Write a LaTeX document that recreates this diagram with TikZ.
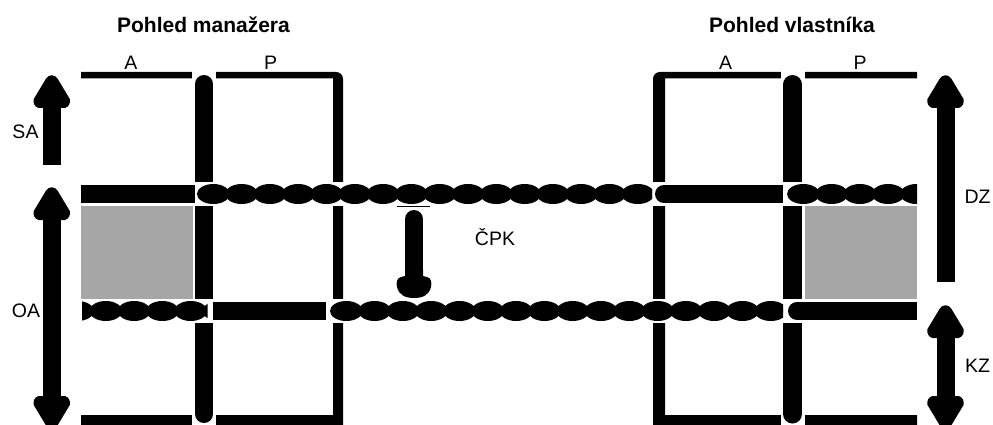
\documentclass[tikz,border=0pt]{standalone}
\usepackage{fontspec}
\setmainfont{Liberation Sans}
\definecolor{fillgray}{HTML}{A6A6A6}

\tikzset{
  tag/.style={inner sep=0pt, anchor=base, font=\fontsize{19.5}{23}\selectfont},
  heading/.style={inner sep=0pt, anchor=base, font=\fontsize{21}{25}\selectfont\bfseries},
  divider/.style={line width=18, line cap=round},
  headup/.pic={
    \fill (-9.5,33) -- (-13,33) .. controls (-17,32) and (-19,28) .. (-18,24)
      -- (-6,4) .. controls (-3,-1) and (3,-1) .. (6,4)
      -- (18,24) .. controls (19,28) and (17,32) .. (13,33) -- (9.5,33) -- cycle;
  },
  headdown/.pic={
    \fill (-9.5,-33) -- (-13,-33) .. controls (-17,-32) and (-19,-28) .. (-18,-24)
      -- (-6,-4) .. controls (-3,1) and (3,1) .. (6,-4)
      -- (18,-24) .. controls (19,-28) and (17,-32) .. (13,-33) -- (9.5,-33) -- cycle;
  }
}

% chain of overlapping beads: clip start, clip end, centre y, first bead centre
\newcommand\beadrow[4]{%
  \begin{scope}
    \clip (#1,#3-11) rectangle (#2,#3+11);
    \pgfmathtruncatemacro\beadn{ceil((#2-#4)/28.3)+1}
    \foreach \k in {0,...,\beadn}
      \fill (#4+28.3*\k,#3) ellipse [x radius=16.3, y radius=10];
  \end{scope}}

\begin{document}
\begin{tikzpicture}[x=1pt,y=-1pt]
\useasboundingbox (0,0) rectangle (993,425);
\clip (0,0) rectangle (993,425);

% ---- left balance sheet frame (open on the left)
\fill (81,72) -- (336,72) .. controls (340,72) and (343,75) .. (343,79)
  -- (343,425) -- (81,425) -- (81,415) -- (333,415) -- (333,78.5)
  -- (81,78.5) -- cycle;

% ---- right balance sheet frame (open on the right)
\fill (917,72) -- (660,72) .. controls (656,72) and (653,75) .. (653,79)
  -- (653,425) -- (917,425) -- (917,415) -- (665,415) -- (665,78.5)
  -- (917,78.5) -- cycle;

% ---- A | P dividers
\fill[white] (192,70) rectangle (216,425);
\fill[white] (780.5,70) rectangle (804.5,425);
\draw[divider] (204,84) -- (204,414);
\draw[divider, line width=19] (792.5,84.5) -- (792.5,414);

% ---- shaded blocks
\fill[fillgray] (81,206) rectangle (193,300);
\fill[fillgray] (804.5,206) rectangle (917,300);

% ---- upper row
\fill[white] (75,182) rectangle (921,206);
\fill (81,185) rectangle (195,203);
\beadrow{197}{652}{194}{213.3}
\fill (664,185) rectangle (783,203);
\fill (664,194) ellipse [x radius=9, y radius=9];
\beadrow{787}{917}{194}{803.3}

% ---- lower row
\fill[white] (75,299) rectangle (921,323);
\beadrow{82}{207.5}{311}{77.5}
\fill (213,302) rectangle (326,320);
\beadrow{330}{783}{311}{346.3}
\fill (797,302) rectangle (917,320);
\fill (797,311) ellipse [x radius=9, y radius=9];

% ---- vertical arrows at the sides
\pic at (51.75,75) {headup};
\fill (42.5,100) rectangle (61,165);

\pic at (51.75,187) {headup};
\fill (42.5,212) rectangle (61,404);
\pic at (51.75,429) {headdown};

\pic at (945.5,75) {headup};
\fill (936.5,100) rectangle (955,282);

\pic at (945.5,305) {headup};
\fill (936.5,330) rectangle (955,404);
\pic at (945.5,429) {headdown};

% ---- arrow between the rows
\draw[line width=1.6] (397,206.5) -- (430,206.5);
\draw[line width=18, line cap=round] (414,219) -- (414,280);
\fill (405,270) -- (405,276) -- (401,277)
  .. controls (397,278) and (396,282) .. (397,287)
  .. controls (399,295) and (405,298) .. (414,298)
  .. controls (423,298) and (429,295) .. (431,287)
  .. controls (432,282) and (431,278) .. (427,277)
  -- (423,276) -- (423,270) -- cycle;

% ---- texts
\node[heading] (tm) at (203.5,33) {Pohled manažera};
\node[heading] (tv) at (792,33) {Pohled vlastníka};
\node[tag] (la) at (131,70) {A};
\node[tag] (lp) at (270.5,70) {P};
\node[tag] (ra) at (725.5,70) {A};
\node[tag] (rp) at (860,70) {P};
\node[tag] (sa) at (25.5,139) {SA};
\node[tag] (oa) at (26,317) {OA};
\node[tag] (cpk) at (495,245) {ČPK};
\node[tag] (dz) at (977.5,203) {DZ};
\node[tag] (kz) at (977.5,372) {KZ};
\end{tikzpicture}
\end{document}
